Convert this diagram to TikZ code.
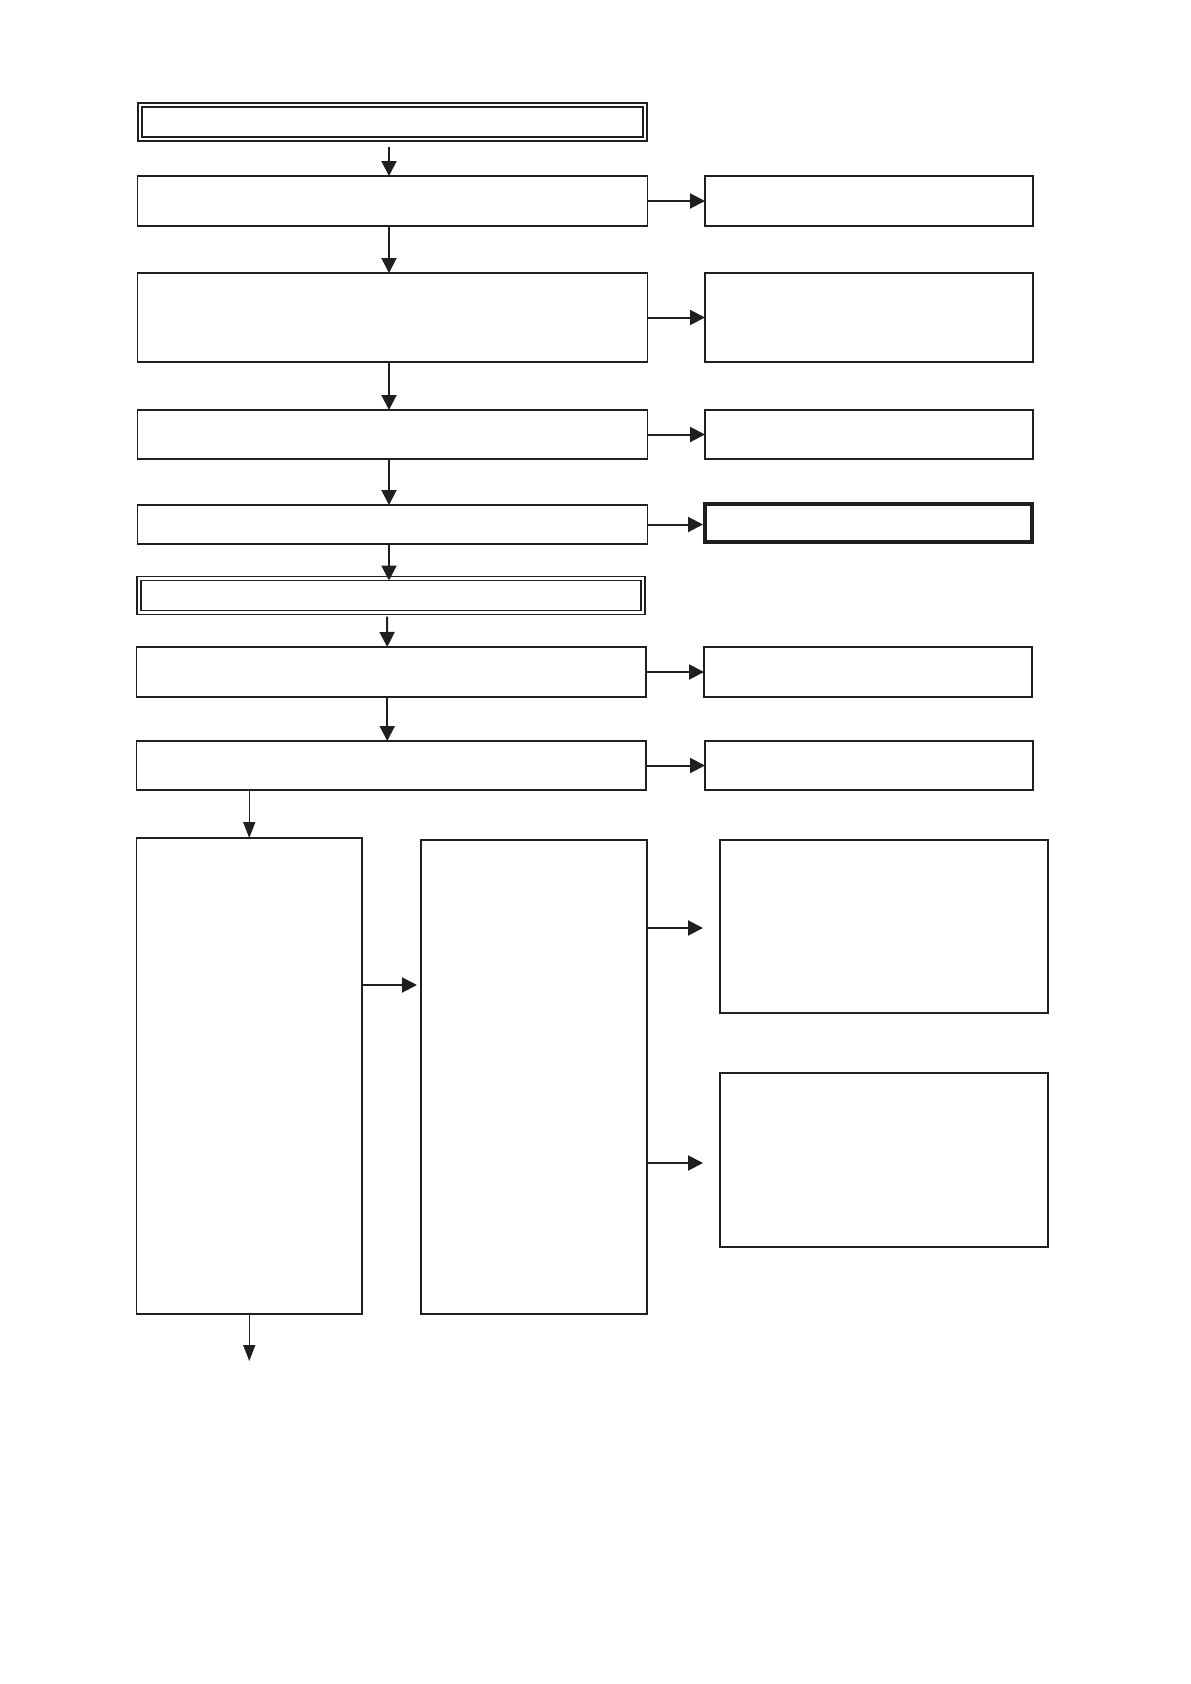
\documentclass[tikz,border=0pt]{standalone}
\usetikzlibrary{arrows.meta,calc}
\begin{document}
\begin{tikzpicture}[x=1pt,y=-1pt,
  box/.style={draw=black!88,line width=1.8pt,rectangle,inner sep=0pt,outer sep=0pt},
  dbox/.style={box,line width=1.4pt,double,double distance=2.6pt},
  tbox/.style={box,line width=4pt},
  conn/.style={draw=black!88,line width=2pt,-{Triangle[length=15pt,width=15pt]}},
  thin/.style={draw=black!88,line width=1.5pt,-{Triangle[length=16pt,width=12pt]}}]
\useasboundingbox[fill=white] (0,0) rectangle (1191,1684);
% left column
\node[dbox,minimum width=505pt,minimum height=34pt] (b1) at (392.5,122) {};
\node[box,minimum width=510pt,minimum height=50pt] (b2) at (392.5,201) {};
\node[box,minimum width=510pt,minimum height=89pt] (b3) at (392.5,317.5) {};
\node[box,minimum width=510pt,minimum height=49pt] (b4) at (392.5,434.5) {};
\node[box,minimum width=510pt,minimum height=39pt] (b5) at (392.5,524.5) {};
\node[dbox,minimum width=504pt,minimum height=34pt] (b6) at (391,595.5) {};
\node[box,minimum width=509.5pt,minimum height=50pt] (b7) at (391.25,672) {};
\node[box,minimum width=509.5pt,minimum height=49pt] (b8) at (391.25,765.5) {};
% right column
\node[box,minimum width=328pt,minimum height=50pt] (r2) at (869,201) {};
\node[box,minimum width=328pt,minimum height=89pt] (r3) at (869,317.5) {};
\node[box,minimum width=328pt,minimum height=49pt] (r4) at (869,434.5) {};
\node[tbox,minimum width=327pt,minimum height=38pt] (r5) at (868.5,523) {};
\node[box,minimum width=328pt,minimum height=50pt] (r7) at (868,672) {};
\node[box,minimum width=328pt,minimum height=49pt] (r8) at (869,765.5) {};
% lower part
\node[box,line width=1.7pt,minimum width=225.5pt,minimum height=476pt] (L) at (249.25,1076) {};
\node[box,line width=1.7pt,minimum width=226pt,minimum height=474pt] (M) at (534,1077) {};
\node[box,line width=1.9pt,minimum width=328pt,minimum height=173pt] (RU) at (884,926.5) {};
\node[box,line width=1.9pt,minimum width=328pt,minimum height=174pt] (RL) at (884,1160) {};
\coordinate (endU) at (703,928);
\coordinate (endL) at (703,1163);
\coordinate (endB) at (249.25,1361);
% vertical connectors
\draw[conn] ([xshift=-3.5pt,yshift=-8pt]b1.south) -- ([xshift=-3.5pt]b2.north);
\draw[conn] ([xshift=-3.5pt]b2.south) -- ([xshift=-3.5pt]b3.north);
\draw[conn] ([xshift=-3.5pt]b3.south) -- ([xshift=-3.5pt]b4.north);
\draw[conn] ([xshift=-3.5pt]b4.south) -- ([xshift=-3.5pt]b5.north);
\draw[conn] ([xshift=-3.5pt]b5.south) -- ([xshift=-2pt,yshift=-2pt]b6.north);
\draw[conn] ([xshift=-4pt,yshift=-4pt]b6.south) -- ([xshift=-4pt]b7.north);
\draw[conn] ([xshift=-4pt]b7.south) -- ([xshift=-4pt]b8.north);
\draw[thin] (b8.south -| L.north) -- (L.north);
\draw[thin] (L.south) -- (endB);
% horizontal connectors
\draw[conn] (b2.east) -- (r2.west);
\draw[conn] (b3.east) -- (r3.west);
\draw[conn] (b4.east) -- (r4.west);
\draw[conn] (b5.east) -- ([xshift=-2pt]b5.east -| r5.west);
\draw[conn] (b7.east) -- (r7.west);
\draw[conn] (b8.east) -- (r8.west);
\draw[conn] ([yshift=91pt]L.east) -- ([yshift=91pt,xshift=-4pt]L.east -| M.west);
\draw[conn] (M.east |- endU) -- (endU);
\draw[conn] (M.east |- endL) -- (endL);
\end{tikzpicture}
\end{document}
